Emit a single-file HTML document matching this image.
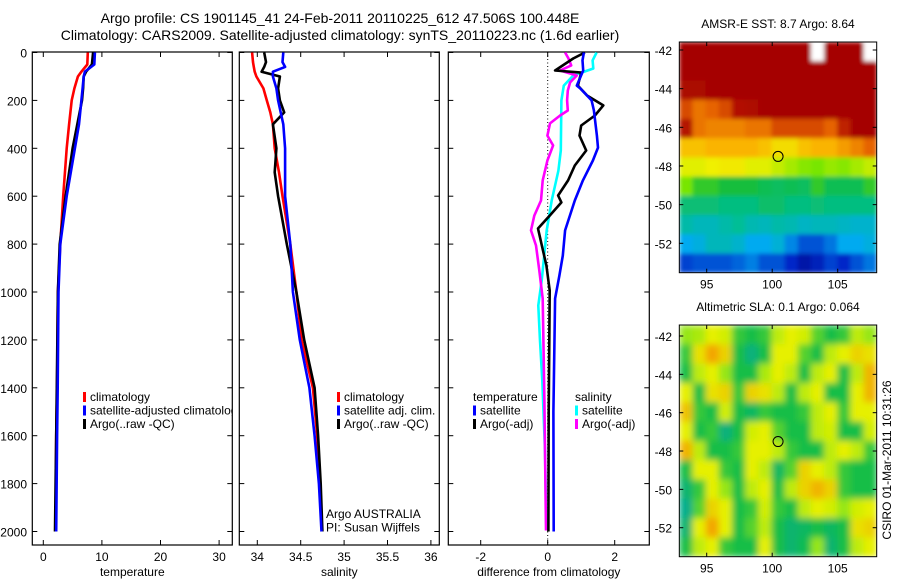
<!DOCTYPE html>
<html><head><meta charset="utf-8">
<style>
html,body{margin:0;padding:0;background:#fff;}
svg{display:block;font-family:"Liberation Sans",sans-serif;}
</style></head>
<body>
<svg id="fig" width="900" height="580" viewBox="0 0 900 580">
<defs>
<filter id="blurSST" x="0" y="0" width="1" height="1"><feGaussianBlur stdDeviation="2" edgeMode="duplicate"/></filter>
<filter id="blurSLA" x="0" y="0" width="1" height="1"><feGaussianBlur stdDeviation="3.5" edgeMode="duplicate"/></filter>
</defs>
<text x="340" y="23" font-size="14" text-anchor="middle">Argo profile: CS 1901145_41 24-Feb-2011 20110225_612 47.506S 100.448E</text>
<text x="340" y="40" font-size="14" text-anchor="middle">Climatology: CARS2009. Satellite-adjusted climatology: synTS_20110223.nc (1.6d earlier)</text>
</svg>
<script>
// ---- data ----
const tDepth=[0,50,80,100,150,200,300,400,600,800,1000,1400,1600,2000];
const tClim=[7.6,7.5,6.5,5.9,5.3,4.85,4.4,4.0,3.4,2.9,2.5,2.35,2.2,2.1];
const tSat=[8.8,8.7,7.1,6.9,6.7,6.5,6.1,5.4,4.0,2.9,2.6,2.45,2.35,2.2];
const tArgo=[8.5,8.3,7.3,6.9,6.8,6.6,5.8,5.0,3.8,2.8,2.5,2.3,2.2,2.0];
const sDepth=[0,40,60,80,100,150,200,250,300,400,500,600,800,1000,1200,1400,1600,1800,2000];
const sClim=[33.94,33.95,33.96,33.97,33.99,34.07,34.11,34.15,34.18,34.2,34.25,34.29,34.38,34.45,34.51,34.64,34.69,34.72,34.745];
const sSat=[34.3,34.29,34.32,34.18,34.18,34.22,34.24,34.27,34.3,34.32,34.32,34.32,34.38,34.41,34.49,34.6,34.66,34.71,34.74];
const sArgo=[34.08,34.10,34.08,34.05,34.26,34.24,34.26,34.31,34.18,34.22,34.2,34.24,34.34,34.45,34.54,34.66,34.70,34.73,34.75];
const dTSatDepth=[0,33,75,138,150,200,242,347,397,451,534,618,743,848,931,1027,1500,2000];
const dTSat=[1.08,1.04,1.06,0.87,0.97,1.31,1.38,1.47,1.5,1.35,1.05,0.81,0.52,0.45,0.35,0.22,0.17,0.18];
const dTArgoDepth=[0,25,75,84,138,180,221,263,305,347,409,472,534,597,626,681,735,827,889,994,1500,2000];
const dTArgo=[1.11,0.76,0.22,1.0,0.9,1.18,1.66,1.41,1.0,0.95,1.15,0.81,0.61,0.31,0.41,0.06,-0.29,-0.14,-0.04,0.06,0.03,0.02];
const dSSatDepth=[0,33,67,96,138,200,409,493,618,743,952,1056,1203,1370,1662,1996];
const dSSat=[1.46,1.34,1.36,0.76,0.48,0.41,0.39,0.32,0.12,-0.03,-0.18,-0.28,-0.23,-0.16,-0.08,-0.04];
const dSArgoDepth=[0,25,54,75,96,125,159,200,242,263,296,347,388,451,534,618,681,743,806,910,1027,1453,1996];
const dSArgo=[0.52,0.62,0.7,0.37,0.87,0.67,0.6,0.58,0.6,0.37,0.07,-0.01,0.16,-0.01,-0.15,-0.2,-0.4,-0.5,-0.35,-0.25,-0.15,-0.1,-0.05];
const depthTicks=[0,200,400,600,800,1000,1200,1400,1600,1800,2000];
const tTicks=[0,10,20,30];
const sTicks=[34,34.5,35,35.5,36];
const dTicks=[-2,0,2];
const lonTicks=[95,100,105];
const latTicks=[-42,-44,-46,-48,-50,-52];
const sstGrid=[
[1,1,1,1,1,1,1,1,1,1,null,1,1,1,null],
[1,1,1,1,1,1,1,1,1,1,1,1,1,1,1],
[0.97,0.97,1,1,1,1,1,1,1,1,1,1,1,1,1],
[0.85,0.8,0.82,0.85,0.93,0.95,1,1,1,1,1,1,1,1,1],
[0.92,0.8,0.78,0.78,0.78,0.8,0.8,0.85,0.85,0.85,0.85,0.82,0.9,1,1],
[0.7,0.7,0.72,0.72,0.72,0.72,0.7,0.66,0.66,0.7,0.72,0.72,0.75,0.78,0.82],
[0.62,0.62,0.63,0.64,0.64,0.62,0.62,0.6,0.58,0.56,0.55,0.57,0.56,0.58,0.6],
[0.55,0.5,0.5,0.48,0.48,0.48,0.46,0.45,0.46,0.45,0.5,0.46,0.46,0.46,0.5],
[0.43,0.43,0.43,0.42,0.42,0.42,0.44,0.44,0.42,0.42,0.43,0.42,0.42,0.42,0.42],
[0.38,0.36,0.36,0.38,0.4,0.37,0.36,0.38,0.37,0.35,0.36,0.36,0.35,0.34,0.34],
[0.3,0.32,0.36,0.36,0.34,0.3,0.3,0.33,0.26,0.2,0.2,0.24,0.3,0.3,0.32],
[0.18,0.2,0.2,0.2,0.22,0.25,0.2,0.2,0.15,0.08,0.12,0.18,0.15,0.2,0.24]];
const slaGrid=[
[0.5,0.55,0.7,0.65,0.35,0.3,0.35,0.6,0.7,0.65,0.4,0.3,0.35,0.6,0.5],
[0.35,0.75,0.95,0.8,0.3,0.1,0.3,0.7,0.7,0.4,0.3,0.6,0.7,0.8,0.75],
[0.3,0.6,0.7,0.5,0.3,0.3,0.55,0.7,0.6,0.3,0.6,0.7,0.3,0.6,0.9],
[0.7,0.3,0.75,0.8,0.35,0.8,0.75,0.6,0.3,0.6,0.7,0.3,0.3,0.7,0.9],
[0.85,0.35,0.3,0.65,0.3,0.2,0.35,0.3,0.3,0.35,0.6,0.7,0.35,0.7,0.7],
[0.7,0.3,0.35,0.1,0.3,0.65,0.7,0.4,0.3,0.3,0.6,0.65,0.3,0.3,0.65],
[0.9,0.6,0.3,0.3,0.35,0.7,0.7,0.6,0.35,0.3,0.3,0.6,0.7,0.6,0.35],
[0.3,0.7,0.7,0.35,0.3,0.7,0.6,0.2,0.4,0.8,0.7,0.6,0.35,0.3,0.3],
[0.15,0.35,0.7,0.5,0.3,0.6,0.7,0.3,0.6,0.8,0.9,0.8,0.35,0.3,0.3],
[0.05,0.4,0.8,0.7,0.3,0.35,0.65,0.35,0.3,0.6,0.7,0.65,0.5,0.65,0.7],
[0.15,0.7,0.95,0.7,0.3,0.4,0.6,0.3,0.15,0.2,0.3,0.2,0.3,0.75,0.8],
[0.3,0.6,0.7,0.35,0.3,0.3,0.7,0.3,0.15,0.25,0.5,0.15,0.3,0.6,0.7]];
const argoLon=100.448, argoLat=-47.506;

// ---- helpers ----
const NS="http://www.w3.org/2000/svg";
const svg=document.getElementById('fig');
function mk(tag,attrs,parent){const e=document.createElementNS(NS,tag);for(const k in attrs)e.setAttribute(k,attrs[k]);(parent||svg).appendChild(e);return e;}
const yD=d=>52.5+d*0.2395;
const xT=t=>43.3+5.86*t;
const xS=s=>257.3+86.8*(s-34);
const xDf=v=>547.7+33.5*v;
const mapLon=l=>706.7+(l-95)*13.1;
const mapLat1=l=>50+(-42-l)*19.33;
const mapLat2=l=>336+(-42-l)*19.17;

function panel(x0,x1,name,xTicks,xf,label,showDepth){
  const g=mk('g',{});
  
  
  const cp=mk('clipPath',{id:'clip-'+name},g);
  mk('rect',{x:x0,y:52,width:x1-x0,height:493},cp);
  mk('rect',{x:x0,y:52,width:x1-x0,height:493,fill:'none',stroke:'#000','stroke-width':1.2},g);
  depthTicks.forEach(d=>{
    mk('line',{x1:x0,x2:x0+5,y1:yD(d),y2:yD(d),stroke:'#000'},g);
    mk('line',{x1:x1,x2:x1-5,y1:yD(d),y2:yD(d),stroke:'#000'},g);
    if(showDepth){const t=mk('text',{x:27,y:yD(d)+5,'font-size':12,'text-anchor':'end'},g);t.textContent=d;
      
      }
  });
  xTicks.forEach(v=>{
    const X=xf(v);
    mk('line',{x1:X,x2:X,y1:545,y2:540,stroke:'#000'},g);
    mk('line',{x1:X,x2:X,y1:52,y2:57,stroke:'#000'},g);
    const t=mk('text',{x:X,y:561,'font-size':12,'text-anchor':'middle'},g);t.textContent=v;
    
    
  });
  const lt=mk('text',{x:(x0+x1)/2,y:576,'font-size':12,'text-anchor':'middle'},g);lt.textContent=label;
  
  
  const inner=mk('g',{'clip-path':'url(#clip-'+name+')'},g);
  return inner;
}
function series(g,depths,vals,xf,color,name){
  const pts=vals.map((v,i)=>xf(v).toFixed(1)+','+yD(depths[i]).toFixed(1)).join(' ');
  const p=mk('polyline',{points:pts,fill:'none',stroke:color,'stroke-width':2.6,'stroke-linejoin':'round'},g);
  
  
}
function legend(g,x,y,items,name){
  const lg=mk('g',{},g);
  
  
  items.forEach((it,i)=>{
    const yy=y+i*13.5;
    if(it[0])mk('rect',{x:x,y:yy-9,width:3,height:10,fill:it[0]},lg);
    const t=mk('text',{x:x+(it[0]?7:0),y:yy,'font-size':12},lg);t.textContent=it[1];
  });
}

// temperature panel
const g1=panel(32.3,232.3,'temperature-panel',tTicks,xT,'temperature',true);
series(g1,tDepth,tClim,xT,'#f00','temp-climatology-line');
series(g1,tDepth,tArgo,xT,'#000','temp-argo-line');
series(g1,tDepth,tSat,xT,'#00f','temp-satellite-line');
legend(g1,83,401,[['#f00','climatology'],['#00f','satellite-adjusted climatology'],['#000','Argo(..raw -QC)']],'temp-legend');

// salinity panel
const g2=panel(239.3,439.3,'salinity-panel',sTicks,xS,'salinity',false);
series(g2,sDepth,sClim,xS,'#f00','sal-climatology-line');
series(g2,sDepth,sArgo,xS,'#000','sal-argo-line');
series(g2,sDepth,sSat,xS,'#00f','sal-satellite-line');
legend(g2,337,401,[['#f00','climatology'],['#00f','satellite adj. clim.'],['#000','Argo(..raw -QC)']],'sal-legend');
legend(g2,326,518,[[null,'Argo AUSTRALIA'],[null,'PI: Susan Wijffels']],'pi-credit');

// difference panel
const g3=panel(448.3,649.3,'difference-panel',dTicks,xDf,'difference from climatology',false);
const zl=mk('line',{x1:xDf(0),x2:xDf(0),y1:52,y2:545,stroke:'#000','stroke-dasharray':'1,2.5'},g3);


series(g3,dSSatDepth,dSSat,xDf,'#0ff','sal-satellite-diff-line');
series(g3,dSArgoDepth,dSArgo,xDf,'#f0f','sal-argo-diff-line');
series(g3,dTArgoDepth,dTArgo,xDf,'#000','temp-argo-diff-line');
series(g3,dTSatDepth,dTSat,xDf,'#00f','temp-satellite-diff-line');
legend(g3,473,401,[[null,' temperature'],['#00f','satellite'],['#000','Argo(-adj)']],'temp-diff-legend');
legend(g3,575,401,[[null,'  salinity'],['#0ff','satellite'],['#f0f','Argo(-adj)']],'sal-diff-legend');

// colormaps
function interp(stops,v){
  for(let i=1;i<stops.length;i++){if(v<=stops[i][0]){const a=stops[i-1],b=stops[i],f=(v-a[0])/(b[0]-a[0]||1);
    return 'rgb('+[1,2,3].map(k=>Math.round(a[k]+(b[k]-a[k])*f)).join(',')+')';}}
  const l=stops[stops.length-1];return 'rgb('+l[1]+','+l[2]+','+l[3]+')';
}
const sstStops=[[0,0,0,130],[0.15,0,40,200],[0.3,0,170,240],[0.4,0,190,150],[0.48,20,190,60],[0.55,120,230,0],[0.63,240,240,0],[0.72,250,180,0],[0.82,230,100,0],[0.92,180,20,0],[1,165,0,0]];
const slaStops=[[0,0,170,150],[0.3,20,190,70],[0.5,150,230,20],[0.7,230,240,0],[1,245,150,0]];

function mapPanel(top,bottom,grid,stops,latf,title,name,filt){
  const x0=679.3,x1=876.7;
  const g=mk('g',{});
  
  
  const cp=mk('clipPath',{id:'clip-'+name},g);
  mk('rect',{x:x0,y:top,width:x1-x0,height:bottom-top},cp);
  const outer=mk('g',{'clip-path':'url(#clip-'+name+')'},g);
  mk('rect',{x:x0,y:top,width:x1-x0,height:bottom-top,fill:'#fff'},outer);
  const cells=mk('g',{filter:'url(#'+filt+')'},outer);
  const cw=(x1-x0)/15,ch=(bottom-top)/12;
  grid.forEach((row,r)=>row.forEach((v,c)=>{
    const cell=mk('rect',{x:(x0+c*cw).toFixed(2),y:(top+r*ch).toFixed(2),width:(cw+0.4).toFixed(2),height:(ch+0.4).toFixed(2),fill:v===null?'#fff':interp(stops,v)},cells);
    
    
  }));
  mk('rect',{x:x0,y:top,width:x1-x0,height:bottom-top,fill:'none',stroke:'#000','stroke-width':1},g);
  lonTicks.forEach(l=>{const X=mapLon(l);
    mk('line',{x1:X,x2:X,y1:bottom,y2:bottom-4,stroke:'#000'},g);
    mk('line',{x1:X,x2:X,y1:top,y2:top+4,stroke:'#000'},g);
    const t=mk('text',{x:X,y:bottom+16,'font-size':12,'text-anchor':'middle'},g);t.textContent=l;
    
    });
  latTicks.forEach(l=>{const Y=latf(l);
    mk('line',{x1:x1,x2:x1-4,y1:Y,y2:Y,stroke:'#000'},g);
    mk('line',{x1:x0,x2:x0+4,y1:Y,y2:Y,stroke:'#000'},g);
    const t=mk('text',{x:672,y:Y+5,'font-size':12,'text-anchor':'end'},g);t.textContent=l;
    
    });
  const c=mk('circle',{cx:mapLon(argoLon),cy:latf(argoLat),r:5,fill:'none',stroke:'#000','stroke-width':1},g);
  
  
  const tt=mk('text',{x:778,y:top-14,'font-size':12,'text-anchor':'middle'},g);tt.textContent=title;
  
  
}
mapPanel(42,272.7,sstGrid,sstStops,mapLat1,'AMSR-E SST: 8.7 Argo: 8.64','sst-map','blurSST');
mapPanel(325,556.7,slaGrid,slaStops,mapLat2,'Altimetric SLA: 0.1 Argo: 0.064','sla-map','blurSLA');

const stamp=mk('text',{x:0,y:0,'font-size':12,'text-anchor':'middle',transform:'translate(891,460) rotate(-90)'});
stamp.textContent='CSIRO 01-Mar-2011 10:31:26';


</script>
</body></html>
